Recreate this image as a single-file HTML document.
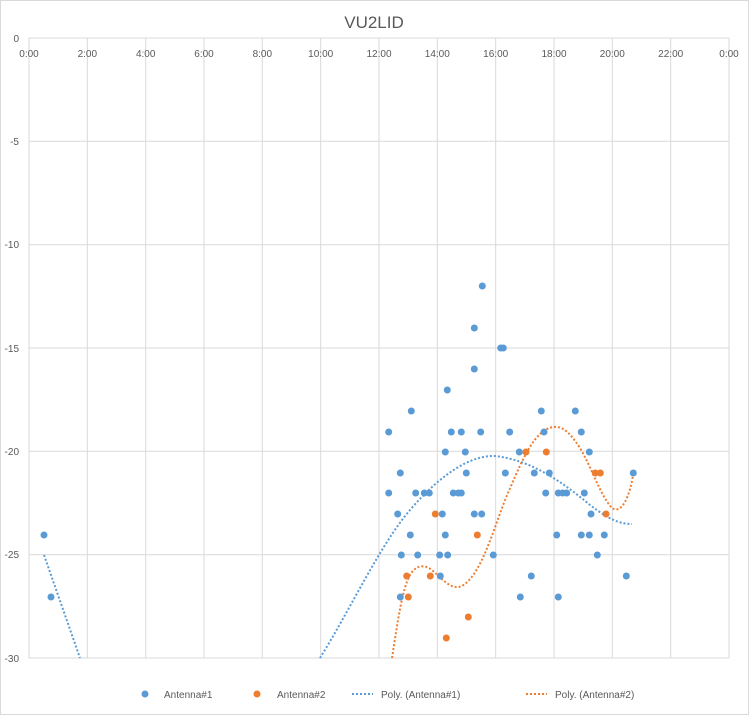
<!DOCTYPE html>
<html><head><style>body{margin:0;background:#fff}svg{display:block;font-family:"Liberation Sans",sans-serif}</style></head><body>
<svg width="749" height="715" xmlns="http://www.w3.org/2000/svg">
<rect x="0.5" y="0.5" width="748" height="714" fill="#fff" stroke="#d9d9d9"/>
<text x="374" y="28" font-size="17" fill="#595959" text-anchor="middle">VU2LID</text>
<g stroke="#d9d9d9" stroke-width="1">
<line x1="29" y1="38" x2="729" y2="38"/><line x1="29" y1="141.3" x2="729" y2="141.3"/><line x1="29" y1="244.7" x2="729" y2="244.7"/><line x1="29" y1="348" x2="729" y2="348"/><line x1="29" y1="451.3" x2="729" y2="451.3"/><line x1="29" y1="554.7" x2="729" y2="554.7"/><line x1="29" y1="658" x2="729" y2="658"/>
<line x1="29" y1="38" x2="29" y2="658"/><line x1="87.3" y1="38" x2="87.3" y2="658"/><line x1="145.7" y1="38" x2="145.7" y2="658"/><line x1="204" y1="38" x2="204" y2="658"/><line x1="262.3" y1="38" x2="262.3" y2="658"/><line x1="320.7" y1="38" x2="320.7" y2="658"/><line x1="379" y1="38" x2="379" y2="658"/><line x1="437.3" y1="38" x2="437.3" y2="658"/><line x1="495.7" y1="38" x2="495.7" y2="658"/><line x1="554" y1="38" x2="554" y2="658"/><line x1="612.3" y1="38" x2="612.3" y2="658"/><line x1="670.7" y1="38" x2="670.7" y2="658"/><line x1="729" y1="38" x2="729" y2="658"/>
</g>
<g font-size="10" fill="#595959" text-anchor="end">
<text x="19" y="42">0</text><text x="19" y="145">-5</text><text x="19" y="248">-10</text><text x="19" y="352">-15</text><text x="19" y="455">-20</text><text x="19" y="558">-25</text><text x="19" y="662">-30</text>
</g>
<g font-size="10" fill="#595959" text-anchor="middle">
<text x="29" y="57">0:00</text><text x="87.3" y="57">2:00</text><text x="145.7" y="57">4:00</text><text x="204" y="57">6:00</text><text x="262.3" y="57">8:00</text><text x="320.7" y="57">10:00</text><text x="379" y="57">12:00</text><text x="437.3" y="57">14:00</text><text x="495.7" y="57">16:00</text><text x="554" y="57">18:00</text><text x="612.3" y="57">20:00</text><text x="670.7" y="57">22:00</text><text x="729" y="57">0:00</text>
</g>
<g fill="none" stroke-width="2" stroke-dasharray="2,2">
<path stroke="#5b9bd5" d="M44,555 L80,658 M320,658 C350,610 380,545 410,510 C440,475 470,455 495,456 C530,460 560,480 590,505 C610,520 620,524 632,524"/>
<path stroke="#ed7d31" d="M392,658 C398,620 402,590 410,575 C416,565 424,564 432,570 C445,582 452,590 462,586 C480,575 490,540 505,500 C520,465 530,440 545,430 C560,422 568,430 580,448 C592,468 600,495 612,508 C622,515 630,495 633,475"/>
</g>
<g fill="#5b9bd5">
<circle cx="44" cy="535" r="3.5"/><circle cx="51" cy="597" r="3.5"/>
<circle cx="482.3" cy="286" r="3.5"/><circle cx="474.3" cy="328" r="3.5"/><circle cx="500.7" cy="348" r="3.5"/><circle cx="503.3" cy="348" r="3.5"/><circle cx="474.3" cy="369" r="3.5"/><circle cx="447.3" cy="390" r="3.5"/>
<circle cx="411.3" cy="411" r="3.5"/><circle cx="541.3" cy="411" r="3.5"/><circle cx="575.3" cy="411" r="3.5"/>
<circle cx="388.7" cy="432" r="3.5"/><circle cx="451.3" cy="432" r="3.5"/><circle cx="461.3" cy="432" r="3.5"/><circle cx="480.7" cy="432" r="3.5"/><circle cx="509.7" cy="432" r="3.5"/><circle cx="544" cy="432" r="3.5"/><circle cx="581.3" cy="432" r="3.5"/>
<circle cx="445.3" cy="452" r="3.5"/><circle cx="465.3" cy="452" r="3.5"/><circle cx="519.3" cy="452" r="3.5"/><circle cx="589.3" cy="452" r="3.5"/>
<circle cx="400.3" cy="473" r="3.5"/><circle cx="466.3" cy="473" r="3.5"/><circle cx="505.3" cy="473" r="3.5"/><circle cx="534.3" cy="473" r="3.5"/><circle cx="549.3" cy="473" r="3.5"/><circle cx="633.3" cy="473" r="3.5"/>
<circle cx="388.7" cy="493" r="3.5"/><circle cx="415.7" cy="493" r="3.5"/><circle cx="424.3" cy="493" r="3.5"/><circle cx="429.3" cy="493" r="3.5"/><circle cx="453.3" cy="493" r="3.5"/><circle cx="458.3" cy="493" r="3.5"/><circle cx="461.3" cy="493" r="3.5"/><circle cx="545.7" cy="493" r="3.5"/><circle cx="558.3" cy="493" r="3.5"/><circle cx="562.7" cy="493" r="3.5"/><circle cx="566.7" cy="493" r="3.5"/><circle cx="584.3" cy="493" r="3.5"/>
<circle cx="397.7" cy="514" r="3.5"/><circle cx="442.3" cy="514" r="3.5"/><circle cx="474.3" cy="514" r="3.5"/><circle cx="481.7" cy="514" r="3.5"/><circle cx="591" cy="514" r="3.5"/>
<circle cx="410.3" cy="535" r="3.5"/><circle cx="445.3" cy="535" r="3.5"/><circle cx="556.7" cy="535" r="3.5"/><circle cx="581.3" cy="535" r="3.5"/><circle cx="589.3" cy="535" r="3.5"/><circle cx="604.3" cy="535" r="3.5"/>
<circle cx="401.3" cy="555" r="3.5"/><circle cx="417.7" cy="555" r="3.5"/><circle cx="439.7" cy="555" r="3.5"/><circle cx="447.7" cy="555" r="3.5"/><circle cx="493.3" cy="555" r="3.5"/><circle cx="597.3" cy="555" r="3.5"/>
<circle cx="440.3" cy="576" r="3.5"/><circle cx="531.3" cy="576" r="3.5"/><circle cx="626.3" cy="576" r="3.5"/>
<circle cx="400.3" cy="597" r="3.5"/><circle cx="520.3" cy="597" r="3.5"/><circle cx="558.3" cy="597" r="3.5"/>
</g>
<g fill="#ed7d31">
<circle cx="526" cy="452" r="3.5"/><circle cx="546.3" cy="452" r="3.5"/><circle cx="595.3" cy="473" r="3.5"/><circle cx="600.3" cy="473" r="3.5"/>
<circle cx="435.3" cy="514" r="3.5"/><circle cx="606" cy="514" r="3.5"/><circle cx="477.3" cy="535" r="3.5"/>
<circle cx="406.7" cy="576" r="3.5"/><circle cx="430.3" cy="576" r="3.5"/><circle cx="408.3" cy="597" r="3.5"/><circle cx="468.3" cy="617" r="3.5"/><circle cx="446.3" cy="638" r="3.5"/>
</g>
<g font-size="10" fill="#595959">
<circle cx="145" cy="694" r="3.5" fill="#5b9bd5"/><text x="164" y="698">Antenna#1</text>
<circle cx="257" cy="694" r="3.5" fill="#ed7d31"/><text x="277" y="698">Antenna#2</text>
<line x1="352" y1="694" x2="373" y2="694" stroke="#5b9bd5" stroke-width="2" stroke-dasharray="2,2"/><text x="381" y="698">Poly. (Antenna#1)</text>
<line x1="526" y1="694" x2="547" y2="694" stroke="#ed7d31" stroke-width="2" stroke-dasharray="2,2"/><text x="555" y="698">Poly. (Antenna#2)</text>
</g>
</svg>
</body></html>
